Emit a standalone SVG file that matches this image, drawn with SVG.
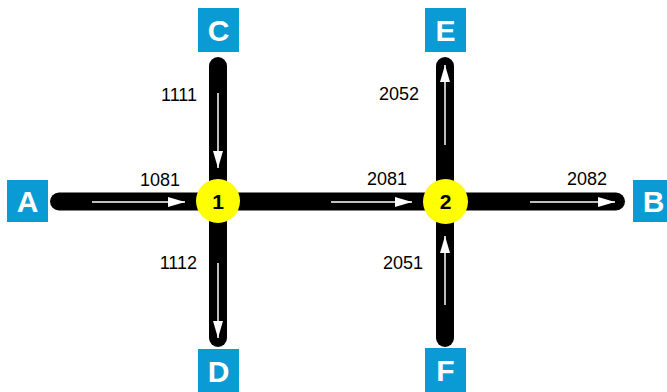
<svg xmlns="http://www.w3.org/2000/svg" width="667" height="392" viewBox="0 0 667 392">
  <style>
    .road { stroke: #000; stroke-width: 18; stroke-linecap: round; fill: none; }
    .flow { stroke: #fff; stroke-width: 1.5; fill: none; marker-end: url(#head); }
    .term rect { fill: #0a9bd5; }
    .term text { fill: #fff; font-family: "Liberation Sans", Arial, sans-serif; font-weight: bold; font-size: 30px; text-anchor: middle; }
    .junc circle { fill: #ffff00; }
    .junc text { fill: #000; font-family: "Liberation Sans", Arial, sans-serif; font-weight: bold; font-size: 21px; text-anchor: middle; }
    .lbl { fill: #000; font-family: "Liberation Sans", Arial, sans-serif; font-size: 18px; }
  </style>
  <defs>
    <marker id="head" viewBox="0 0 17 10" refX="17" refY="5" markerWidth="17" markerHeight="10" markerUnits="userSpaceOnUse" orient="auto">
      <path d="M0,0 L17,5 L0,10 Z" fill="#fff"/>
    </marker>
  </defs>
  <rect width="667" height="392" fill="#fff"/>

  <g id="connectors">
    <line class="road" x1="59" y1="201.5" x2="616" y2="201.5"/>
    <line class="road" x1="218" y1="66" x2="218" y2="338"/>
    <line class="road" x1="445" y1="66" x2="445" y2="338"/>
    <line class="flow" x1="92" y1="202" x2="185" y2="202"/>
    <line class="flow" x1="331" y1="202" x2="412" y2="202"/>
    <line class="flow" x1="530" y1="202" x2="615" y2="202"/>
    <line class="flow" x1="218" y1="93" x2="218" y2="168"/>
    <line class="flow" x1="218" y1="263" x2="218" y2="338"/>
    <line class="flow" x1="445" y1="145" x2="445" y2="65"/>
    <line class="flow" x1="445" y1="305" x2="445" y2="236"/>
    <text class="lbl" x="160" y="186" text-anchor="middle">1081</text>
    <text class="lbl" x="197" y="101" text-anchor="end">1111</text>
    <text class="lbl" x="197" y="269" text-anchor="end">1112</text>
    <text class="lbl" x="387" y="185" text-anchor="middle">2081</text>
    <text class="lbl" x="419" y="100" text-anchor="end">2052</text>
    <text class="lbl" x="423" y="269" text-anchor="end">2051</text>
    <text class="lbl" x="587" y="185" text-anchor="middle">2082</text>
  </g>

  <g id="node-1" class="junc">
    <circle cx="218" cy="201" r="22"/>
    <text x="218" y="209">1</text>
  </g>
  <g id="node-2" class="junc">
    <circle cx="445.5" cy="201.5" r="22.5"/>
    <text x="445.5" y="209">2</text>
  </g>

  <g id="node-A" class="term">
    <rect x="7" y="180" width="41" height="42"/>
    <text x="27.5" y="212">A</text>
  </g>
  <g id="node-B" class="term">
    <rect x="633" y="180" width="41" height="42"/>
    <text x="653.5" y="212">B</text>
  </g>
  <g id="node-C" class="term">
    <rect x="198" y="8" width="41" height="44"/>
    <text x="218.5" y="41">C</text>
  </g>
  <g id="node-D" class="term">
    <rect x="198" y="349" width="41" height="44"/>
    <text x="218.5" y="382">D</text>
  </g>
  <g id="node-E" class="term">
    <rect x="425" y="8" width="41" height="44"/>
    <text x="445.5" y="41">E</text>
  </g>
  <g id="node-F" class="term">
    <rect x="425" y="348" width="41" height="44"/>
    <text x="445.5" y="381">F</text>
  </g>
</svg>
